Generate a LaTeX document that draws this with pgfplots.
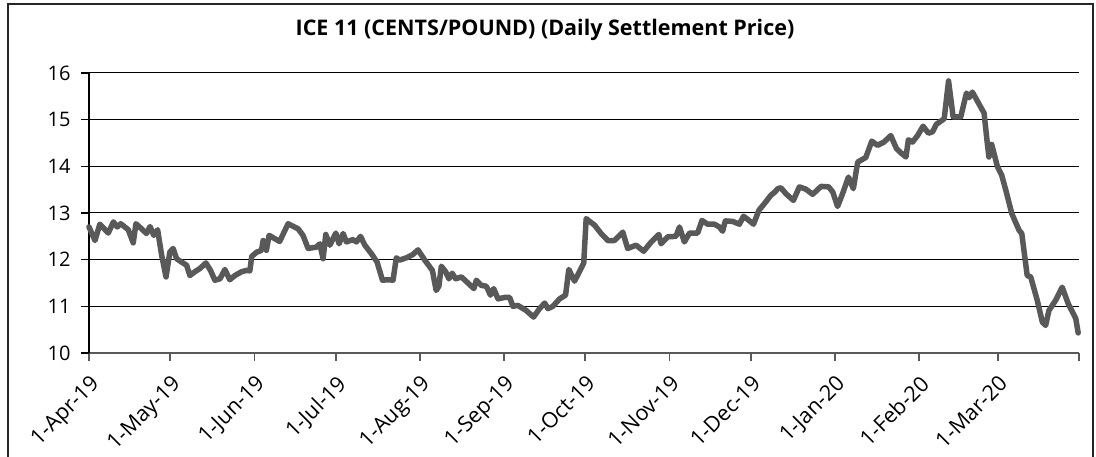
\documentclass[border=0pt]{standalone}
\usepackage{pgfplots}
\pgfplotsset{compat=1.18}
\usepackage{fontspec}
\setmainfont{Open Sans}
\definecolor{linegray}{HTML}{595959}
\begin{document}
\begin{tikzpicture}
\useasboundingbox (0,0) rectangle (1096pt,457pt);
\draw[line width=1.5pt, color=black!85] (8pt,0) -- (8pt,453pt) -- (1093pt,453pt) -- (1093pt,0);
\node[anchor=base, font=\fontsize{21.5}{26}\selectfont\bfseries] at (545pt,421pt) {ICE 11 (CENTS/POUND) (Daily Settlement Price)};
\begin{axis}[
  at={(89pt,104pt)}, anchor=south west,
  scale only axis, width=990pt, height=280pt,
  xmin=0, xmax=365, ymin=10, ymax=16,
  axis x line=bottom, axis y line=left,
  x axis line style={-, color=linegray, line width=2pt},
  y axis line style={-, color=black, line width=1.3pt},
  xtick={0,30,61,91,122,153,183,214,244,275,306,335,365},
  xticklabels={1-Apr-19,1-May-19,1-Jun-19,1-Jul-19,1-Aug-19,1-Sep-19,1-Oct-19,1-Nov-19,1-Dec-19,1-Jan-20,1-Feb-20,1-Mar-20,{}},
  ytick={10,11,12,13,14,15,16},
  tick align=outside, major tick length=8pt,
  x tick style={color=linegray, line width=1.8pt},
  y tick style={color=black, line width=1.2pt},
  ymajorgrids, major grid style={color=black, line width=1pt},
  /pgf/number format/assume math mode=true,
  y tick label style={font=\fontsize{20}{24}\selectfont, xshift=-7pt},
  x tick label style={font=\fontsize{21.5}{24}\selectfont, xshift=0pt, yshift=-10pt, rotate=45, anchor=north east, inner sep=2pt},
  clip=false,
]
\addplot[color=linegray, line width=5.5pt, line join=round, line cap=round] coordinates {
(0,12.70) (2.2,12.41) (4,12.76) (7.1,12.57) (9,12.81) (10.4,12.70) (11.7,12.77) (14.5,12.64) (16.3,12.36) (17.3,12.77)
(19.4,12.66) (21.2,12.56) (22.5,12.71) (23.9,12.52) (25.3,12.64) (26.8,12.09) (28.4,11.63) (29.8,12.16) (31,12.24) (32.3,12.02)
(34.1,11.95) (36,11.88) (37.2,11.66) (39,11.74) (40.9,11.81) (43.1,11.93) (44.8,11.77) (46.4,11.56) (48.3,11.59) (50.1,11.79)
(51.9,11.57) (53.8,11.66) (56.2,11.74) (58.1,11.77) (59.3,11.76) (60,12.07) (61.8,12.16) (63.6,12.2) (64.2,12.41) (65.4,12.2)
(66.4,12.52) (70.3,12.39) (73.4,12.77) (77.1,12.66) (78.9,12.52) (80.8,12.24) (83.9,12.27) (85.1,12.34) (86.3,12.02) (87.3,12.54)
(88.8,12.31) (91,12.57) (92.2,12.34) (93.7,12.56) (94.9,12.38) (97.3,12.43) (98.6,12.38) (100.1,12.5) (101.7,12.31) (104.1,12.13)
(106.2,11.95) (108.2,11.56) (110.2,11.57) (112.1,11.56) (113.3,12.04) (114.5,11.99) (117,12.04) (119.4,12.11) (121.3,12.21) (123.8,11.99)
(126.6,11.77) (128,11.34) (129,11.43) (129.9,11.86) (131.5,11.74) (132.7,11.59) (133.9,11.71) (135.2,11.59) (137.3,11.63) (139.7,11.5)
(141.9,11.38) (142.8,11.56) (144.6,11.45) (146.5,11.43) (148,11.24) (149.2,11.38) (150.8,11.16) (153.2,11.19) (155.1,11.19) (156.3,11.0)
(158.1,11.02) (161.2,10.91) (163.9,10.77) (166.1,10.95) (168,11.07) (169.2,10.95) (171,11.0) (173.5,11.16) (175.7,11.24) (176.9,11.79)
(179,11.54) (180.8,11.74) (182.4,11.93) (183.3,12.88) (184.8,12.81) (186.4,12.74) (188.8,12.56) (191.3,12.41) (193.7,12.41) (196.8,12.59)
(198.6,12.24) (201.7,12.31) (204.5,12.18) (207.3,12.38) (210.1,12.54) (210.9,12.34) (213.4,12.49) (216.4,12.5) (217.7,12.7) (219.5,12.38)
(221.4,12.57) (224.4,12.57) (226,12.84) (228.1,12.76) (230.6,12.76) (232.4,12.7) (233.6,12.61) (234.6,12.83) (237.3,12.82) (239.8,12.76)
(241.3,12.93) (242.9,12.86) (245,12.76) (247,13.06) (249,13.2) (251.4,13.38) (252.9,13.45) (253.9,13.52) (255.1,13.54) (257,13.41)
(259.7,13.27) (261.9,13.56) (264.3,13.51) (266.8,13.4) (269.9,13.57) (272.7,13.56) (274.2,13.45) (276,13.14) (277.8,13.41) (280,13.77)
(281.8,13.52) (283.4,14.09) (286.4,14.19) (288.6,14.54) (290.7,14.45) (293.1,14.52) (295.6,14.66) (297.7,14.38) (299.3,14.29) (301.2,14.2)
(302.1,14.57) (303.6,14.52) (305.5,14.66) (307.5,14.86) (309.5,14.71) (311,14.74) (312.4,14.9) (315.3,15.02) (316.9,15.83) (318.6,15.06)
(321.4,15.06) (323.5,15.57) (324.5,15.47) (325.7,15.59) (327.9,15.36) (330,15.14) (331.2,14.49) (331.8,14.2) (332.8,14.47) (334.9,14.0)
(336.5,13.81) (338.2,13.45) (340.2,12.99) (342.9,12.63) (343.9,12.56) (345.9,11.66) (347.2,11.63) (349.6,11.13) (351.5,10.66) (352.7,10.59)
(353.9,10.91) (356.4,11.13) (358.8,11.41) (361,11.06) (363.8,10.74) (364.7,10.43)
};
\end{axis}
\end{tikzpicture}
\end{document}
